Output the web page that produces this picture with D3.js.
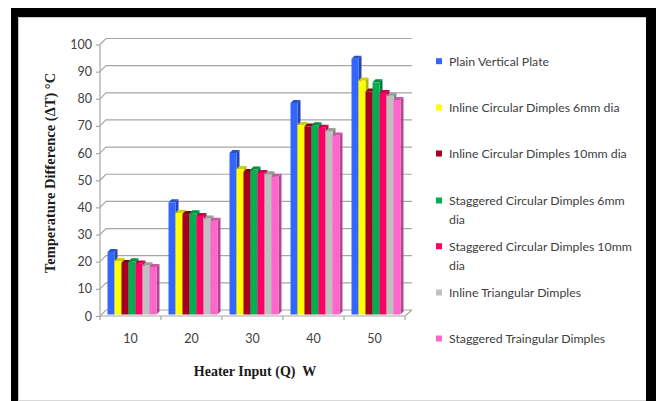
<!DOCTYPE html>
<html><head><meta charset="utf-8">
<script src="https://d3js.org/d3.v7.min.js"></script>
<style>html,body{margin:0;padding:0;background:#fff;}svg{display:block;}</style>
</head><body>
<svg id="c" width="656" height="401"></svg>
<script>
const categories = ["10", "20", "30", "40", "50"];
const seriesNames = [
  "Plain Vertical Plate",
  "Inline Circular Dimples 6mm dia",
  "Inline Circular Dimples 10mm dia",
  "Staggered Circular Dimples 6mm dia",
  "Staggered Circular Dimples 10mm dia",
  "Inline Triangular Dimples",
  "Staggered Traingular Dimples"
];
const legendLines = [
  ["Plain Vertical Plate"],
  ["Inline Circular Dimples 6mm dia"],
  ["Inline Circular Dimples 10mm dia"],
  ["Staggered Circular Dimples 6mm", "dia"],
  ["Staggered Circular Dimples 10mm", "dia"],
  ["Inline Triangular Dimples"],
  ["Staggered Traingular Dimples"]
];
const plainVertical   = [23.0, 41.3, 59.5, 77.9, 94.2];
const inline6         = [19.7, 37.5, 53.6, 69.8, 86.2];
const inline10        = [19.0, 37.0, 52.5, 69.2, 82.1];
const staggered6      = [19.6, 37.3, 53.4, 69.7, 85.5];
const staggered10     = [18.8, 36.3, 52.1, 68.8, 81.6];
const inlineTri       = [18.1, 35.4, 51.7, 67.6, 80.6];
const staggeredTri    = [17.5, 34.5, 50.7, 65.9, 79.0];
const series = [plainVertical, inline6, inline10, staggered6, staggered10, inlineTri, staggeredTri];
const colors = ["#3366ff", "#ffff00", "#a50021", "#00b050", "#ff0066", "#c0c0c0", "#ff66cc"];
const yTicks = [0,10,20,30,40,50,60,70,80,90,100];

const svg = d3.select("#c");
// frame
svg.append("rect").attr("x",11).attr("y",8).attr("width",645).attr("height",400).attr("fill","#000");
svg.append("rect").attr("x",18).attr("y",17).attr("width",628).attr("height",384).attr("fill","#fff");
svg.append("line").attr("x1",18.5).attr("x2",18.5).attr("y1",17).attr("y2",401).attr("stroke","#c8c8c8");
svg.append("line").attr("x1",18).attr("x2",646).attr("y1",17.5).attr("y2",17.5).attr("stroke","#c8c8c8");
svg.append("line").attr("x1",18).attr("x2",646).attr("y1",400.5).attr("y2",400.5).attr("stroke","#d8d8d8");

const x0 = d3.scaleBand().domain(categories).range([100, 405]).paddingInner(0).paddingOuter(0);
const y = d3.scaleLinear().domain([0,100]).range([316, 44.5]);
const DX = 6, DY = -6;
const gridColor = "#a6a6a6";

// back wall gridlines + left wall diagonals
const g = svg.append("g");
yTicks.forEach(t => {
  const yy = y(t);
  g.append("path").attr("d", `M${100},${yy} L${100+DX},${yy+DY} L${405+DX+1},${yy+DY}`)
    .attr("fill","none").attr("stroke",gridColor).attr("stroke-width",1.2);
});
g.append("line").attr("x1",100).attr("x2",100).attr("y1",y(0)).attr("y2",y(100)).attr("stroke",gridColor).attr("stroke-width",1.2);
g.append("path").attr("d", `M100,${y(0)} L405,${y(0)} L${405+DX+1},${y(0)+DY}`)
  .attr("fill","none").attr("stroke",gridColor).attr("stroke-width",1.2);

// y axis ticks & labels
const yAxis = d3.axisLeft(y).tickValues(yTicks).tickSize(4).tickPadding(4).tickFormat(d3.format("d"));
const ya = svg.append("g").attr("transform","translate(100,0)").call(yAxis);
ya.select(".domain").remove();
ya.selectAll(".tick line").attr("stroke",gridColor).attr("stroke-width",1.2);
ya.selectAll(".tick text").attr("fill","#404040").style("font-family","Lato, 'Open Sans', sans-serif").style("font-size","12.5px");

// x axis ticks
const xTickPos = d3.range(categories.length+1).map(i => 100 + i*x0.bandwidth());
xTickPos.forEach(p => {
  svg.append("line").attr("x1",p).attr("x2",p).attr("y1",y(0)).attr("y2",y(0)+4).attr("stroke",gridColor).attr("stroke-width",1.2);
});
const xAxis = d3.axisBottom(x0).tickSize(0).tickPadding(18);
const xa = svg.append("g").attr("transform",`translate(0,${y(0)})`).call(xAxis);
xa.select(".domain").remove();
xa.selectAll(".tick text").attr("fill","#404040").style("font-family","Lato, 'Open Sans', sans-serif").style("font-size","12.5px");

// bars
const x1 = d3.scaleBand().domain(d3.range(series.length)).range([7.5, 7.5+7*7]);
const bdx = 3, bdy = -3, baseShift = -1.5;
const bars = svg.append("g");
categories.forEach((c, ci) => {
  series.forEach((s, si) => {
    const v = s[ci];
    const xl = x0(c) + x1(si);
    const w = x1.bandwidth();
    const yt = y(v) + baseShift, yb = y(0) + baseShift;
    const col = d3.color(colors[si]);
    bars.append("path").attr("d", `M${xl+w},${yb} L${xl+w+bdx},${yb+bdy} L${xl+w+bdx},${yt+bdy} L${xl+w},${yt} Z`)
      .attr("fill", col.darker(1.0));
    bars.append("rect").attr("x",xl).attr("y",yt).attr("width",w).attr("height",yb-yt).attr("fill",colors[si]);
    bars.append("path").attr("d", `M${xl},${yt} L${xl+bdx},${yt+bdy} L${xl+w+bdx},${yt+bdy} L${xl+w},${yt} Z`)
      .attr("fill", col.darker(0.6));
  });
});

// legend
const legRows = [61.7, 108, 154, 201, 246.7, 293, 339];
const lg = svg.append("g");
legendLines.forEach((lines, i) => {
  const cy = legRows[i];
  lg.append("rect").attr("x",436).attr("y",cy-3.5).attr("width",6).attr("height",6).attr("fill",colors[i]);
  lines.forEach((ln, j) => {
    lg.append("text").attr("x",449).attr("y",cy + j*18.5).attr("dy","0.35em")
      .attr("fill","#404040").style("font-family","Lato, 'Open Sans', sans-serif").style("font-size","12.3px")
      .text(ln);
  });
});

// axis titles
svg.append("text").attr("x",255).attr("y",371).attr("dy","0.35em").attr("text-anchor","middle")
  .style("font-family","'Liberation Serif', 'Times New Roman', serif").style("font-weight","bold").style("font-size","14px")
  .attr("fill","#1a1a1a").attr("xml:space","preserve").text("Heater Input (Q)  W");
svg.append("text").attr("transform","translate(50,173) rotate(-90)").attr("dy","0.35em").attr("text-anchor","middle")
  .style("font-family","'Liberation Serif', 'Times New Roman', serif").style("font-weight","bold").style("font-size","14.5px")
  .attr("fill","#1a1a1a").text("Temperature Difference (ΔT) °C");
</script>
</body></html>
